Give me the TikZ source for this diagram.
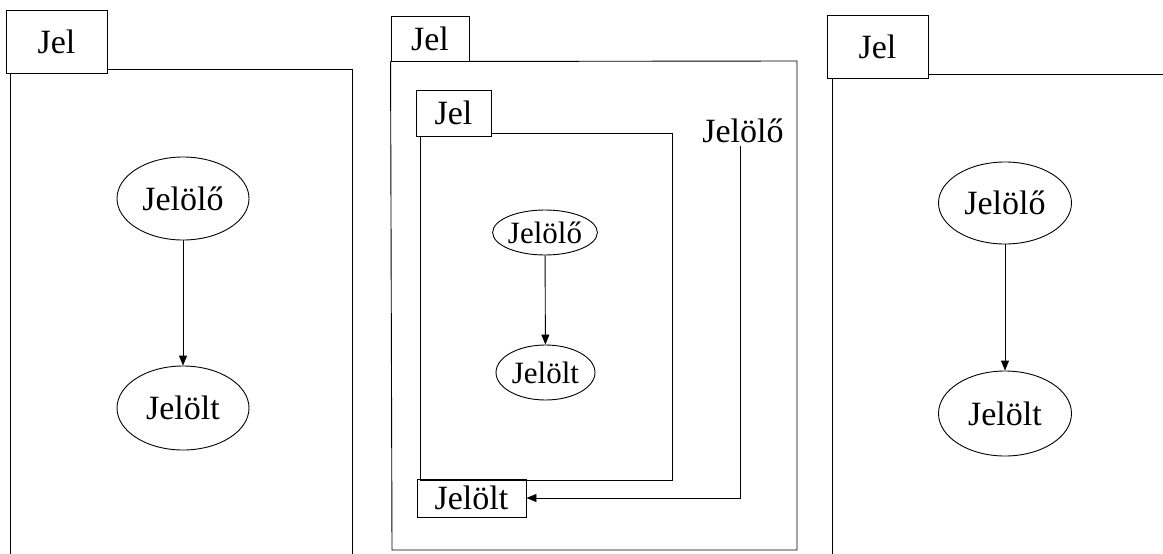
\documentclass[tikz,border=0pt]{standalone}
\usepackage{fontspec}
\setmainfont{Liberation Serif}
\usetikzlibrary{shapes.geometric,arrows.meta}

\tikzset{
  jelbox/.style={draw,rectangle,inner sep=0pt},
  jelell/.style={draw,ellipse,inner sep=0pt},
  jelarr/.style={-{Triangle[length=10pt,width=8pt]}},
}

\begin{document}
\begin{tikzpicture}[x=1pt,y=-1pt,line width=0.9pt,font=\fontsize{34}{40}\selectfont]
  \useasboundingbox (0,0) rectangle (1163,554);

  % left panel
  \node[jelbox,minimum width=101,minimum height=63] (jelA) at (56.5,41.5) {Jel};
  \draw (jelA.east |- 0,69) -- (352,69) -- (352,560);
  \draw (10,73) -- (10,560);
  \node[jelell,minimum width=132,minimum height=83] (jeloloA) at (183,198.5) {Jelölő};
  \node[jelell,minimum width=132,minimum height=84] (jeloltA) at (183,408) {Jelölt};
  \draw[jelarr] (jeloloA) -- (jeloltA);

  % middle panel, one frame inside the other
  \node[jelbox,minimum width=78,minimum height=45] (jelB) at (430,38.5) {Jel};
  \draw (jelB.south east) -- (797,61) -- (797,550) -- (392,550) -- (jelB.south west);
  \node[jelbox,minimum width=75,minimum height=46] (jelC) at (453.5,113) {Jel};
  \draw (jelC.east |- 0,133) -- (672,133) -- (672,480) -- (420,480) -- (420,136);
  \node[jelbox,minimum width=109,minimum height=38] (jeloltB) at (471.5,498) {Jelölt};
  \node[anchor=base,inner sep=0pt] (jeloloB) at (743,142) {Jelölő};
  \draw[jelarr] ([shift={(-3,3)}]jeloloB.south) |- (jeloltB.east);
  \node[jelell,font=\fontsize{31}{36}\selectfont,minimum width=100,minimum height=45] (jeloloC) at (545,232.5) {Jelölő};
  \node[jelell,font=\fontsize{31}{36}\selectfont,minimum width=99,minimum height=55] (jeloltC) at (545.5,372.5) {Jelölt};
  \draw[jelarr] (jeloloC) -- (jeloltC);

  % right panel
  \node[jelbox,minimum width=101,minimum height=63] (jelD) at (877.5,46.5) {Jel};
  \draw (jelD.east |- 0,74) -- (1170,74);
  \draw (832,78) -- (832,560);
  \node[jelell,minimum width=133,minimum height=82] (jeloloD) at (1005,203) {Jelölő};
  \node[jelell,minimum width=133,minimum height=85] (jeloltD) at (1005,413.5) {Jelölt};
  \draw[jelarr] (jeloloD) -- (jeloltD);
\end{tikzpicture}
\end{document}
